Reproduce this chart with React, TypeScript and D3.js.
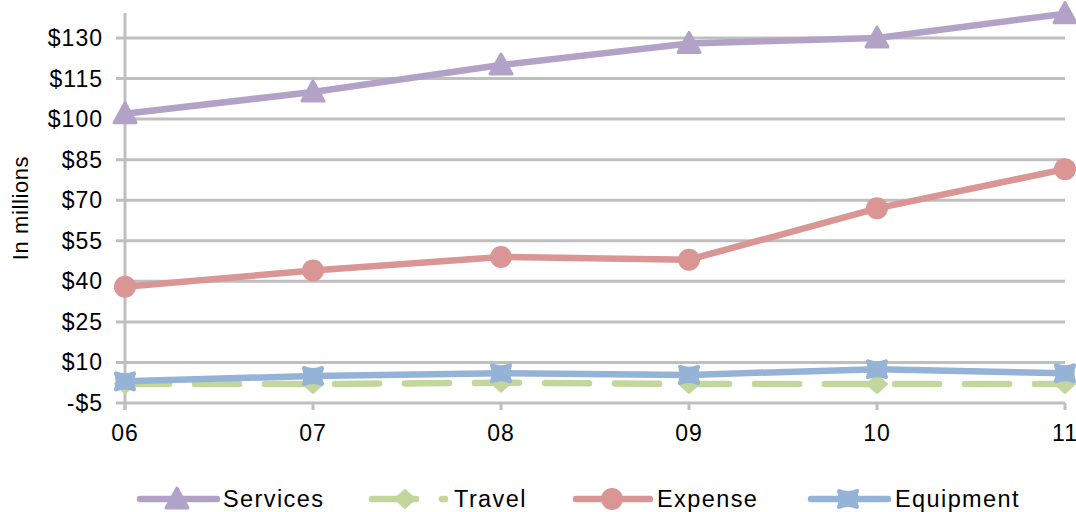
import React from "react";
import * as d3 from "d3";

const years = ["06", "07", "08", "09", "10", "11"];
const services = [102, 110, 120, 128, 130, 139];
const travel = [2, 2, 2.5, 2, 2, 2];
const expense = [38, 44, 49, 48, 67, 81.5];
const equipment = [3, 5, 6, 5.4, 7.5, 6];
const yTicks = [-5, 10, 25, 40, 55, 70, 85, 100, 115, 130];

const W = 1076;
const H = 512;
const FONT = "'Liberation Sans', Arial, sans-serif";

const COLORS = {
  services: "#B3A2C7",
  travel: "#C3D69B",
  expense: "#D99694",
  equipment: "#95B3D7",
  grid: "#BFBFBF",
};

type MarkerKind = "triangle" | "diamond" | "circle" | "cross";

function Marker({ kind, x, y, color }: { kind: MarkerKind; x: number; y: number; color: string }) {
  if (kind === "triangle") {
    const p = `M${x},${y - 11} L${x + 11},${y + 9} L${x - 11},${y + 9} Z`;
    return <path d={p} fill={color} stroke={color} strokeWidth={3} strokeLinejoin="round" />;
  }
  if (kind === "diamond") {
    const p = `M${x},${y - 9} L${x + 10},${y} L${x},${y + 9} L${x - 10},${y} Z`;
    return <path d={p} fill={color} stroke={color} strokeWidth={2} strokeLinejoin="round" />;
  }
  if (kind === "circle") {
    return <circle cx={x} cy={y} r={11} fill={color} />;
  }
  // filled "x" marker: a square body with the cross arms poking out at the corners
  return (
    <g>
      <path
        d={`M${x - 9},${y - 8} Q${x},${y - 4} ${x + 9},${y - 8} Q${x + 6},${y} ${x + 9},${y + 8} Q${x},${y + 4} ${x - 9},${y + 8} Q${x - 6},${y} ${x - 9},${y - 8} Z`}
        fill={color}
        stroke={color}
        strokeWidth={4}
        strokeLinejoin="round"
      />
    </g>
  );
}

export default function App() {
  const x = d3.scalePoint<string>().domain(years).range([125, 1065]);
  const y = d3.scaleLinear().domain([-5, 130]).range([403, 38]);

  const line = d3
    .line<number>()
    .x((_, i) => x(years[i]) as number)
    .y((d) => y(d));

  const series: { name: string; values: number[]; color: string; kind: MarkerKind; dash?: string }[] = [
    { name: "Services", values: services, color: COLORS.services, kind: "triangle" },
    { name: "Travel", values: travel, color: COLORS.travel, kind: "diamond", dash: "44 26" },
    { name: "Expense", values: expense, color: COLORS.expense, kind: "circle" },
    { name: "Equipment", values: equipment, color: COLORS.equipment, kind: "cross" },
  ];

  const legendItems = [
    { s: series[0], x0: 140, x1: 217, mx: 177, tx: 223 },
    { s: series[1], x0: 372, x1: 445, mx: 405, tx: 454 },
    { s: series[2], x0: 576, x1: 650, mx: 612, tx: 657 },
    { s: series[3], x0: 811, x1: 888, mx: 848, tx: 895 },
  ];

  const textStyle = { fontFamily: FONT, fontSize: 23, letterSpacing: 1, fill: "#000" };
  const legendText = { ...textStyle, fontSize: 23.5, letterSpacing: 1.4 };

  return (
    <svg
      width={W}
      height={H}
      style={{ position: "absolute", left: 0, top: 0, background: "#fff" }}
    >
      {/* horizontal gridlines with left tick stubs */}
      {yTicks.map((t) => (
        <line key={t} x1={116} x2={1065} y1={y(t)} y2={y(t)} stroke={COLORS.grid} strokeWidth={3} />
      ))}
      {/* value axis */}
      <line x1={125} x2={125} y1={13} y2={410} stroke={COLORS.grid} strokeWidth={3} />
      {/* category tick marks */}
      {years.map((c) => (
        <line key={c} x1={x(c)} x2={x(c)} y1={403} y2={410} stroke={COLORS.grid} strokeWidth={3} />
      ))}

      {/* value labels */}
      {yTicks.map((t) => (
        <text key={t} x={103} y={y(t)} dy="0.35em" textAnchor="end" style={textStyle}>
          {t < 0 ? `-$${Math.abs(t)}` : `$${t}`}
        </text>
      ))}
      {/* category labels */}
      {years.map((c) => (
        <text key={c} x={x(c)} y={441} textAnchor="middle" style={textStyle}>
          {c}
        </text>
      ))}
      <text
        transform="translate(28,208) rotate(-90)"
        textAnchor="middle"
        style={{ fontFamily: FONT, fontSize: 22, letterSpacing: 0.6, fill: "#000" }}
      >
        In millions
      </text>

      {/* series lines and markers */}
      {series.map((s) => (
        <g key={s.name}>
          <path
            d={line(s.values) ?? ""}
            fill="none"
            stroke={s.color}
            strokeWidth={6.5}
            strokeLinecap="round"
            strokeLinejoin="round"
            strokeDasharray={s.dash}
          />
          {s.values.map((v, i) => (
            <Marker key={i} kind={s.kind} x={x(years[i]) as number} y={y(v)} color={s.color} />
          ))}
        </g>
      ))}

      {/* legend */}
      {legendItems.map(({ s, x0, x1, mx, tx }) => (
        <g key={s.name}>
          <line
            x1={x0}
            x2={x1}
            y1={499}
            y2={499}
            stroke={s.color}
            strokeWidth={6.5}
            strokeLinecap="round"
            strokeDasharray={s.dash ? "44 26" : undefined}
          />
          <Marker kind={s.kind} x={mx} y={499} color={s.color} />
          <text x={tx} y={507} style={legendText}>
            {s.name}
          </text>
        </g>
      ))}
    </svg>
  );
}
